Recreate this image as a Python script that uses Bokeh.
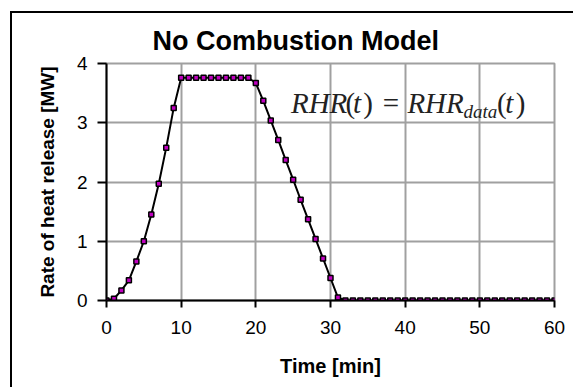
from bokeh.plotting import figure
from bokeh.models import ColumnDataSource, Label, FixedTicker, Range1d
from bokeh.embed import file_html
from bokeh.resources import INLINE

# Data: time [min] and rate of heat release [MW]
time_min = list(range(0, 61))
rhr_mw = [0.0, 0.03, 0.17, 0.34, 0.66, 1.0, 1.45, 1.97, 2.58, 3.25,
          3.76, 3.76, 3.76, 3.76, 3.76, 3.76, 3.76, 3.76, 3.76, 3.76,
          3.67, 3.37, 3.04, 2.71, 2.37, 2.04, 1.70, 1.37, 1.04, 0.71,
          0.38, 0.05] + [0.0] * 29
x_ticks = [0, 10, 20, 30, 40, 50, 60]
y_ticks = [0, 1, 2, 3, 4]

title_text = "No Combustion Model"
x_label = "Time [min]"
y_label = "Rate of heat release [MW]"

src = ColumnDataSource(dict(t=time_min, q=rhr_mw))

p = figure(width=563, height=376, output_backend="svg", toolbar_location=None,
           x_range=Range1d(0, 60), y_range=Range1d(0, 4),
           min_border_left=94, min_border_right=21, min_border_top=50, min_border_bottom=89)
p.styles = {"border-left": "2px solid black", "border-top": "2px solid black",
            "margin-left": "10px", "margin-top": "11px"}

p.title.text = title_text
p.title.text_font = "Liberation Sans"
p.title.text_font_style = "bold"
p.title.text_font_size = "27px"
p.title.text_color = "black"
p.title.align = "left"
p.title.offset = 46
p.title.standoff = 16

p.outline_line_color = "#a0a0a0"
p.outline_line_width = 2
p.background_fill_color = "white"
p.border_fill_color = "white"

for g in (p.xgrid, p.ygrid):
    g.grid_line_color = "#a0a0a0"
    g.grid_line_width = 2
p.xgrid.ticker = FixedTicker(ticks=x_ticks)
p.ygrid.ticker = FixedTicker(ticks=y_ticks)

p.xaxis.ticker = FixedTicker(ticks=x_ticks)
p.yaxis.ticker = FixedTicker(ticks=y_ticks)
for ax in (p.xaxis, p.yaxis):
    ax.axis_line_color = "black"
    ax.axis_line_width = 2
    ax.major_tick_line_color = "black"
    ax.major_tick_line_width = 2
    ax.minor_tick_line_color = None
    ax.major_tick_in = 0
    ax.major_label_text_font = "Liberation Sans"
    ax.major_label_text_font_size = "19px"
    ax.major_label_text_color = "black"
    ax.axis_label_text_font = "Liberation Sans"
    ax.axis_label_text_font_style = "bold"
    ax.axis_label_text_color = "black"
p.xaxis.major_tick_out = 7
p.yaxis.major_tick_out = 9
p.xaxis.major_label_standoff = 13
p.yaxis.major_label_standoff = 10
p.xaxis.axis_label = x_label
p.yaxis.axis_label = y_label
p.xaxis.axis_label_text_font_size = "20px"
p.yaxis.axis_label_text_font_size = "19px"
p.xaxis.axis_label_standoff = 18
p.yaxis.axis_label_standoff = 16

p.line("t", "q", source=src, line_color="black", line_width=2)
p.scatter("t", "q", source=src, marker="square", size=5,
          fill_color="#c000c0", line_color="black", line_width=1.5)

# Formula RHR(t) = RHR_data(t)
serif = "Liberation Serif"
yb = 3.33
pieces = [
    ("RHR", 24.7, yb, "italic", "29px"),
    ("(", 32.0, yb, "normal", "29px"),
    ("t", 33.0, yb, "italic", "29px"),
    (")", 34.4, yb, "normal", "29px"),
    ("=", 37.0, yb, "normal", "29px"),
    ("RHR", 40.3, yb, "italic", "29px"),
    ("data", 47.8, yb - 0.14, "italic", "19px"),
    ("(", 52.3, yb, "normal", "29px"),
    ("t", 53.4, yb, "italic", "29px"),
    (")", 54.8, yb, "normal", "29px"),
]
for txt, xx, yy, style, size in pieces:
    p.add_layout(Label(x=xx, y=yy, text=txt, text_font=serif, text_font_style=style,
                       text_font_size=size, text_baseline="alphabetic", text_align="left",
                       text_color="#222222"))

html = file_html(p, INLINE)
html = html.replace("<head>", "<head><style>html,body{overflow:hidden;}</style>", 1)
open("out.html", "w").write(html)
